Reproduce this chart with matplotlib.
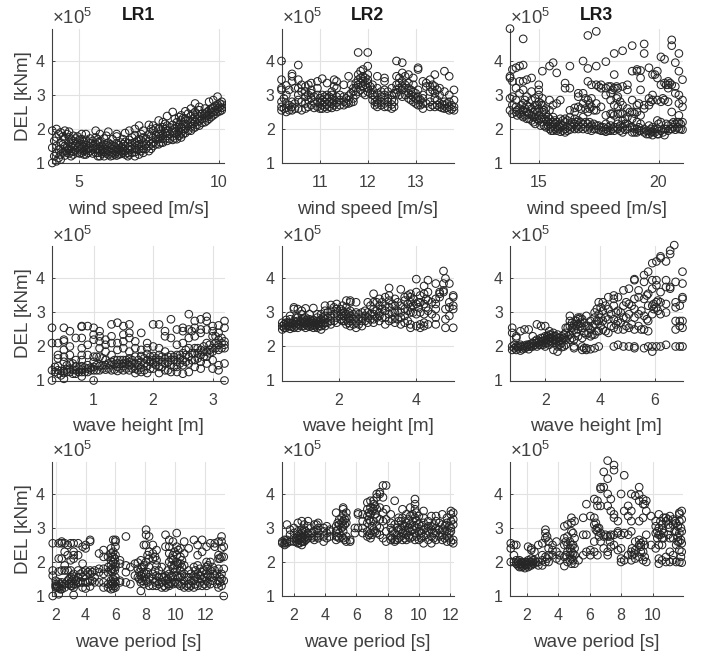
import matplotlib
matplotlib.use("Agg")
import matplotlib.pyplot as plt

plt.rcParams['font.family'] = ['Liberation Sans', 'DejaVu Sans']
plt.rcParams['mathtext.fontset'] = 'custom'
plt.rcParams['mathtext.rm'] = 'Liberation Sans'
plt.rcParams['mathtext.default'] = 'regular'

# DEL is in units of 1e5 kNm, one list of DEL values per x column
lr1_wind_x = [4.05, 4.2, 4.35, 4.5, 4.65, 4.8, 4.95, 5.1, 5.25, 5.4, 5.6, 5.75, 5.9, 6.05, 6.2, 6.35, 6.5, 6.65, 6.8, 7.0,
              7.15, 7.3, 7.5, 7.65, 7.85, 8.0, 8.15, 8.35, 8.5, 8.65, 8.8, 9.0, 9.15, 9.3, 9.5, 9.65, 9.8, 9.95, 10.1,
              4.12, 4.28, 4.43, 4.58, 4.72, 4.88, 5.03, 5.18, 5.33, 5.5, 5.68, 5.83, 5.98, 6.13, 6.28, 6.43, 6.58, 6.75, 6.9,
              7.08, 7.22, 7.4, 7.58, 7.75, 7.93, 8.08, 8.25, 8.43, 8.58, 8.72, 8.9, 9.08, 9.22, 9.4, 9.58, 9.72, 9.88, 10.03]
lr1_wind_del = [[1.0, 1.45, 1.95], [1.05, 1.3, 1.5, 1.75, 2.0], [1.1, 1.25, 1.42, 1.6, 1.9], [1.22, 1.35, 1.5, 1.7, 1.95],
                [1.28, 1.4, 1.6, 1.75, 1.92], [1.25, 1.33, 1.5, 1.65, 1.8], [1.3, 1.45, 1.6, 1.78], [1.3, 1.42, 1.55, 1.7, 1.85],
                [1.25, 1.38, 1.52, 1.68, 1.85], [1.35, 1.45, 1.58, 1.72], [1.3, 1.42, 1.55, 1.75, 1.95], [1.2, 1.35, 1.48, 1.62, 1.85],
                [1.2, 1.32, 1.42, 1.55, 1.72], [1.25, 1.35, 1.48, 1.6, 1.92], [1.22, 1.3, 1.4, 1.52, 1.7], [1.22, 1.32, 1.42, 1.58, 1.78, 1.85],
                [1.27, 1.35, 1.45, 1.6], [1.25, 1.35, 1.5, 1.62, 1.88], [1.25, 1.38, 1.5, 1.68, 1.95], [1.2, 1.32, 1.45, 1.6, 1.82, 2.0],
                [1.25, 1.4, 1.55, 1.7, 2.1], [1.3, 1.42, 1.6, 1.75, 1.95], [1.35, 1.5, 1.65, 1.85, 2.12], [1.5, 1.6, 1.75, 1.95, 2.1],
                [1.55, 1.7, 1.85, 2.0, 2.25], [1.6, 1.72, 1.85, 2.05, 2.2], [1.65, 1.8, 1.95, 2.1, 2.38], [1.68, 1.78, 1.95, 2.12, 2.5],
                [1.7, 1.85, 2.05, 2.2], [1.75, 1.9, 2.05, 2.25, 2.4], [1.88, 2.0, 2.15, 2.3, 2.52], [1.95, 2.08, 2.2, 2.38, 2.6],
                [2.05, 2.2, 2.35, 2.5, 2.75], [2.1, 2.25, 2.38, 2.55, 2.65], [2.2, 2.32, 2.45, 2.6], [2.3, 2.42, 2.55, 2.8],
                [2.4, 2.5, 2.62, 2.85], [2.5, 2.6, 2.72, 2.95], [2.55, 2.62, 2.72, 2.8],
                [1.2, 1.65], [1.15, 1.4, 1.85], [1.32, 1.55, 1.78], [1.3, 1.45, 1.85], [1.2, 1.35, 1.5, 1.68], [1.38, 1.55, 1.72],
                [1.28, 1.4, 1.52, 1.68], [1.25, 1.35, 1.48, 1.62], [1.3, 1.42, 1.6], [1.28, 1.4, 1.5, 1.65], [1.2, 1.3, 1.42, 1.6, 1.7],
                [1.28, 1.38, 1.5], [1.28, 1.4, 1.52, 1.8], [1.2, 1.32, 1.45, 1.55], [1.25, 1.36, 1.48], [1.25, 1.4, 1.52],
                [1.3, 1.4, 1.55, 1.7], [1.2, 1.3, 1.42, 1.58], [1.3, 1.42, 1.58, 1.75], [1.38, 1.52, 1.65], [1.35, 1.5, 1.68, 1.85],
                [1.42, 1.55, 1.72], [1.42, 1.58, 1.8, 2.0], [1.55, 1.7, 1.82, 2.02], [1.6, 1.78, 1.95], [1.7, 1.88, 2.0, 2.15],
                [1.7, 1.85, 2.05], [1.72, 1.9, 2.02, 2.3], [1.8, 1.95, 2.12, 2.35], [1.85, 2.0, 2.15, 2.32], [1.95, 2.1, 2.25, 2.45],
                [2.02, 2.15, 2.3, 2.45], [2.12, 2.28, 2.42], [2.18, 2.3, 2.45], [2.25, 2.38, 2.5], [2.35, 2.48, 2.6], [2.45, 2.55, 2.68],
                [2.52, 2.65, 2.75]]

lr2_wind_x = [10.2, 10.3, 10.42, 10.55, 10.7, 10.82, 10.95, 11.05, 11.15, 11.25, 11.35, 11.5, 11.6, 11.7, 11.8, 11.9, 12.0,
              12.1, 12.2, 12.35, 12.5, 12.6, 12.72, 12.85, 12.95, 13.05, 13.15, 13.3, 13.4, 13.5, 13.6, 13.7, 13.8,
              10.25, 10.36, 10.48, 10.62, 10.76, 10.88, 11.0, 11.1, 11.2, 11.3, 11.42, 11.55, 11.65, 11.75, 11.85, 11.95, 12.05,
              12.15, 12.28, 12.42, 12.55, 12.66, 12.78, 12.9, 13.0, 13.1, 13.22, 13.35, 13.45, 13.55, 13.65, 13.75]
lr2_wind_del = [[2.55, 2.65, 2.8, 3.15, 3.2, 3.45, 4.0], [2.5, 2.62, 2.75, 3.0, 3.28], [2.55, 2.65, 2.8, 3.4, 3.55, 3.62],
                [2.6, 2.85, 3.0, 3.2, 3.45, 3.88], [2.6, 2.75, 2.95, 3.1, 3.25], [2.7, 2.9, 3.05, 3.15, 3.35], [2.65, 2.8, 3.0, 3.2, 3.4],
                [2.6, 2.7, 2.85, 3.0, 3.48], [2.6, 2.72, 2.9, 3.0, 3.35], [2.62, 2.75, 2.88, 3.0, 3.1], [2.65, 2.78, 2.95, 3.2, 3.4],
                [2.7, 2.8, 2.95, 3.3], [2.75, 2.85, 2.98, 3.55], [2.8, 2.9, 3.1, 3.2], [3.1, 3.3, 3.45, 3.6, 4.25],
                [3.05, 3.25, 3.4, 3.55, 3.75], [3.1, 3.2, 3.35, 3.45, 3.6, 3.85, 4.25], [2.85, 3.0, 3.15, 3.3],
                [2.65, 2.75, 2.85, 3.05, 3.2, 3.55], [2.65, 2.75, 2.85, 3.0, 3.15, 3.4, 3.5], [2.6, 2.72, 2.85, 3.0, 3.2],
                [3.05, 3.15, 3.3, 3.55, 4.0], [2.95, 3.15, 3.25, 3.4, 3.65, 3.95], [2.9, 3.05, 3.2, 3.35, 3.6], [2.8, 2.95, 3.1, 3.3, 3.5],
                [2.7, 2.85, 2.95, 3.15, 3.75, 3.8], [2.6, 2.75, 2.9, 3.0, 3.4], [2.65, 2.8, 3.1, 3.25, 3.45], [2.65, 2.9, 3.05, 3.25, 3.6],
                [2.65, 2.75, 3.0, 3.2], [2.6, 2.7, 2.8, 3.1, 3.7], [2.55, 2.65, 2.8, 3.0, 3.55], [2.55, 2.65, 2.85, 3.15],
                [2.6, 2.9], [2.55, 2.7, 3.15], [2.6, 2.75, 3.2], [2.55, 2.8, 3.1, 3.3], [2.65, 2.85, 3.0, 3.3], [2.62, 2.78, 2.95],
                [2.6, 2.75, 2.9], [2.65, 2.8, 2.95], [2.65, 2.78, 2.95], [2.7, 2.85, 3.25, 3.45], [2.7, 2.85, 3.0], [2.75, 2.9],
                [2.78, 3.05, 3.3], [3.0, 3.2, 3.35], [3.15, 3.35, 3.5, 3.7], [3.0, 3.3, 3.5], [3.05, 3.25], [2.7, 2.8, 2.95],
                [2.7, 2.8, 2.95, 3.1], [2.65, 2.8, 2.9, 3.1], [2.65, 2.8, 3.05], [3.0, 3.2, 3.35, 3.5], [3.0, 3.2, 3.3, 3.55],
                [2.85, 3.0, 3.15], [2.75, 2.9, 3.05], [2.7, 2.85], [2.75, 3.25, 3.35], [2.7, 3.15, 3.3], [2.7, 2.85, 3.15],
                [2.62, 2.72], [2.62, 2.75], [2.58, 2.7]]

lr3_wind_x = [13.8, 13.9, 14.05, 14.2, 14.35, 14.5, 14.7, 14.85, 15.0, 15.15, 15.3, 15.45, 15.6, 15.75, 15.9, 16.1, 16.3, 16.5,
              16.65, 16.85, 17.05, 17.2, 17.4, 17.6, 17.8, 18.0, 18.15, 18.3, 18.5, 18.7, 18.9, 19.1, 19.25, 19.4, 19.6, 19.75,
              19.95, 20.1, 20.25, 20.4, 20.55, 20.7, 20.85, 21.0,
              14.1, 14.28, 14.42, 14.6, 14.78, 14.93, 15.08, 15.22, 15.38, 15.52, 15.68, 15.82, 16.0, 16.2, 16.4, 16.58, 16.75,
              16.95, 17.12, 17.3, 17.5, 17.7, 17.9, 18.08, 18.25, 18.4, 18.6, 18.8, 19.0, 19.18, 19.5, 19.68, 19.85, 20.0, 20.18,
              20.32, 20.48, 20.62, 20.78, 20.92]
lr3_wind_del = [[2.55, 2.9, 3.5, 3.55, 4.95], [2.45, 2.7, 2.95, 3.4, 3.75], [2.5, 2.65, 2.85, 3.2, 3.8], [2.45, 2.6, 3.05, 3.4, 3.85],
                [2.35, 2.55, 2.75, 3.15, 3.4, 3.88, 4.65], [2.3, 2.5, 2.7, 2.95, 3.45], [2.25, 2.4, 2.6, 2.85, 3.1, 3.5],
                [2.15, 2.35, 2.55, 2.7, 2.9], [2.25, 2.4, 2.6, 2.8, 3.0, 3.15, 3.3], [2.2, 2.35, 2.5, 2.7, 2.9, 3.7], [2.05, 2.25, 2.45, 2.6],
                [2.0, 2.15, 2.3, 2.55, 2.85, 3.85], [1.95, 2.1, 2.2, 2.35, 2.7, 3.95], [1.95, 2.05, 2.2, 2.75, 3.65], [1.92, 2.05, 2.15, 2.3, 2.85],
                [1.9, 2.0, 2.2, 2.3, 3.2, 3.35], [1.98, 2.1, 2.35, 2.55, 3.2, 3.85], [2.0, 2.15, 2.3, 2.5, 2.62], [2.0, 2.1, 2.25, 2.65, 2.95, 3.05],
                [2.0, 2.15, 2.35, 2.75, 3.05, 4.0], [1.98, 2.15, 2.5, 2.85, 3.4, 3.78, 4.75], [1.95, 2.1, 2.65, 2.9, 3.3],
                [2.0, 2.1, 2.55, 2.75, 3.3, 3.85, 4.87], [1.95, 2.05, 2.65, 3.2, 3.3], [1.92, 2.0, 2.15, 2.4, 3.0, 3.2, 3.98],
                [1.95, 2.1, 2.25, 2.45, 2.85, 3.05, 3.25], [1.95, 2.05, 2.4, 2.7, 3.2, 3.6, 4.22], [2.0, 2.15, 2.45, 2.65, 2.95, 3.2],
                [1.9, 2.05, 2.25, 2.45, 2.7, 3.25, 4.3], [2.0, 2.15, 2.35, 2.6, 3.15, 3.3], [1.9, 2.05, 2.3, 2.5, 2.85, 3.7, 4.45],
                [1.9, 2.0, 2.2, 2.5, 2.7, 3.7, 3.75], [1.95, 2.15, 2.4, 3.15, 3.5, 3.72], [1.9, 2.0, 2.6, 2.7, 4.22, 4.5], [1.85, 1.95, 2.1, 2.7, 2.9, 3.8],
                [1.82, 1.92, 2.05, 2.85, 3.0, 3.6], [1.85, 2.0, 2.25, 2.85, 3.5, 3.7], [1.95, 2.2, 2.8, 3.3, 4.12], [1.82, 2.0, 2.85, 3.35, 4.05],
                [1.95, 2.1, 2.8, 3.2, 3.3, 3.4], [2.0, 2.15, 2.5, 3.3, 4.45, 4.62], [1.98, 2.15, 3.05, 3.25, 3.95], [2.0, 2.2, 2.4, 2.75, 3.0, 3.7, 4.22],
                [1.98, 2.2, 2.65, 2.85, 3.45],
                [2.4, 2.55], [2.4, 2.5, 2.7], [2.4, 2.6, 2.85], [2.3, 2.45, 2.65], [2.2, 2.35, 2.5], [2.3, 2.5, 2.7], [2.1, 2.3, 2.75],
                [2.1, 2.3, 2.55], [2.1, 2.2, 2.35], [1.95, 2.05, 2.2], [2.0, 2.15, 2.25], [2.0, 2.1], [1.95, 2.1, 2.25], [1.95, 2.05, 2.25],
                [2.05, 2.2], [2.05, 2.2], [2.05, 2.2, 2.6], [2.05, 2.2, 2.6, 2.9], [2.05, 2.2, 2.6, 2.75], [2.0, 2.15, 2.55], [1.98, 2.1, 3.25],
                [1.95, 2.05], [1.95, 2.05, 3.25], [2.0, 2.45, 3.15], [2.05, 2.9, 3.25], [1.95, 2.1, 2.45, 2.8], [1.98, 2.15, 2.3], [2.05, 2.5],
                [1.9, 2.0, 2.45], [1.95, 2.05, 2.75], [1.85, 1.95], [1.9, 2.0, 2.8], [1.9, 2.0, 3.6], [1.85, 2.15], [1.9, 2.9], [2.0, 2.15, 3.3],
                [2.0, 3.35], [2.05, 2.2], [2.05, 2.2], [2.0, 2.15]]

lr1_height_x = [0.3, 0.4, 0.5, 0.6, 0.7, 0.8, 0.9, 1.0, 1.1, 1.2, 1.3, 1.4, 1.5, 1.6, 1.7, 1.8, 1.9, 2.0, 2.1, 2.2, 2.3, 2.4, 2.5, 2.6,
                2.7, 2.8, 2.9, 3.0, 3.1, 3.2,
                0.35, 0.45, 0.55, 0.65, 0.75, 0.85, 0.95, 1.05, 1.15, 1.25, 1.35, 1.45, 1.55, 1.65, 1.75, 1.85, 1.95, 2.05, 2.15, 2.25,
                2.35, 2.45, 2.55, 2.65, 2.75, 2.85, 2.95, 3.05, 3.15]
lr1_height_del = [[1.0, 1.3, 2.1, 2.55], [1.2, 1.3, 1.42, 1.65, 1.75, 2.1], [1.05, 1.22, 1.28, 1.55, 1.7, 1.9, 2.15, 2.2, 2.55],
                  [1.25, 1.35, 1.5, 1.75, 2.0, 2.45], [1.2, 1.3, 1.42, 1.6, 2.25], [1.12, 1.25, 1.32, 1.42, 1.6, 1.75, 1.95, 2.25, 2.58, 2.6],
                  [1.25, 1.35, 1.45, 1.75, 2.05, 2.6], [1.0, 1.3, 1.4, 1.55, 1.7, 2.2, 2.35, 2.55], [1.3, 1.42, 1.7, 1.95, 2.15, 2.3, 2.45],
                  [1.32, 1.45, 1.6, 1.85, 2.05, 2.2], [1.3, 1.45, 1.55, 1.75, 2.1, 2.3, 2.65], [1.28, 1.4, 1.5, 1.6, 1.9, 2.1, 2.7],
                  [1.3, 1.42, 1.5, 1.6, 1.95, 2.15, 2.35, 2.6], [1.3, 1.45, 1.55, 1.65, 1.85, 2.25, 2.4, 2.65], [1.22, 1.35, 1.5, 1.7, 1.95, 2.15],
                  [1.25, 1.38, 1.55, 1.72, 1.9, 2.4], [1.22, 1.42, 1.6, 1.78, 1.95, 2.1], [1.35, 1.5, 1.6, 1.72, 2.0, 2.65],
                  [1.22, 1.4, 1.6, 1.75, 1.95, 2.65], [1.3, 1.5, 1.65, 1.85, 2.3, 2.45], [1.25, 1.45, 1.6, 1.75, 2.25, 2.8],
                  [1.25, 1.4, 1.55, 1.75, 2.05, 2.5], [1.2, 1.45, 1.6, 1.8, 2.1, 2.45, 2.55], [1.25, 1.5, 1.7, 1.95, 2.25, 2.5, 2.95],
                  [1.4, 1.6, 1.8, 1.95, 2.3, 2.55, 2.75], [1.35, 1.55, 1.75, 1.9, 2.4, 2.5, 2.8], [1.5, 1.7, 1.85, 2.1, 2.5, 2.75, 2.88],
                  [1.35, 1.6, 1.85, 1.95, 2.3, 2.45, 2.6], [1.3, 1.45, 1.9, 2.05, 2.2, 2.4, 2.62], [1.0, 1.5, 1.95, 2.05, 2.15, 2.55, 2.75],
                  [1.25, 1.4], [1.15, 1.28], [1.25, 1.32, 1.45], [1.2, 1.32, 1.5], [1.25, 1.35], [1.25, 1.38], [1.3, 1.38], [1.3, 1.45, 1.7],
                  [1.35, 1.45, 1.65], [1.35, 1.5], [1.32, 1.48, 1.6], [1.35, 1.48, 1.6], [1.35, 1.5, 1.6], [1.35, 1.5, 1.6], [1.3, 1.45, 1.6],
                  [1.3, 1.5, 1.65], [1.35, 1.55, 1.7], [1.45, 1.55, 1.65], [1.4, 1.55, 1.7], [1.3, 1.55, 1.7], [1.4, 1.6, 1.7], [1.5, 1.65, 1.75],
                  [1.55, 1.75, 1.9], [1.6, 1.8, 2.45], [1.65, 1.8, 1.95], [1.7, 1.85, 2.0], [1.8, 1.9, 2.05], [1.95, 2.1, 2.3], [1.95, 2.1, 2.25]]

lr2_height_x = [0.55, 0.65, 0.75, 0.85, 0.95, 1.05, 1.15, 1.25, 1.35, 1.45, 1.55, 1.65, 1.8, 1.95, 2.1, 2.2, 2.3, 2.45, 2.6, 2.75, 2.9,
                3.05, 3.2, 3.3, 3.45, 3.6, 3.7, 3.85, 4.0, 4.1, 4.2, 4.3, 4.5, 4.6, 4.7, 4.75, 4.85, 4.95,
                0.6, 0.7, 0.8, 0.9, 1.0, 1.1, 1.2, 1.3, 1.4, 1.5, 1.6, 1.72, 1.88, 2.05, 2.15, 2.25, 2.38, 2.52, 2.68, 2.82, 2.98,
                3.12, 3.38, 3.52, 3.78, 3.92, 4.05, 4.25, 4.4]
lr2_height_del = [[2.5, 2.6, 2.7], [2.55, 2.62, 2.7, 2.78], [2.52, 2.6, 2.68, 2.8, 2.9], [2.55, 2.65, 2.75, 3.1, 3.15], [2.55, 2.65, 2.75, 2.85, 3.1],
                  [2.6, 2.7, 2.8, 2.95, 3.05], [2.55, 2.65, 2.72, 2.85, 3.12], [2.58, 2.65, 2.72, 2.8, 2.95], [2.55, 2.62, 2.7, 2.78, 3.13],
                  [2.55, 2.65, 2.75, 2.85, 2.95], [2.5, 2.6, 2.7, 2.8, 2.95], [2.6, 2.7, 2.8, 2.9, 3.05, 3.2], [2.65, 2.75, 2.9, 3.05, 3.22],
                  [2.7, 2.85, 3.0, 3.1, 3.25], [2.75, 2.9, 3.05, 3.2], [2.65, 2.8, 2.95, 3.15, 3.35], [2.6, 2.75, 2.9, 3.05, 3.3, 3.35],
                  [2.55, 2.7, 2.85, 3.0, 3.3], [2.6, 2.75, 2.85, 3.0], [2.7, 2.85, 3.0, 3.3], [2.7, 2.8, 2.95, 3.1, 3.3, 3.55],
                  [2.75, 2.9, 3.0, 3.2, 3.4], [2.65, 2.85, 3.05, 3.2, 3.45], [2.75, 2.95, 3.15, 3.35, 3.5, 3.72], [2.7, 2.85, 3.0, 3.2, 3.4],
                  [2.65, 2.85, 3.0, 3.2, 3.68], [2.7, 2.9, 3.1, 3.35, 3.45], [2.55, 2.65, 3.0, 3.15, 3.3, 3.45, 3.55], [2.6, 2.95, 3.25, 3.6, 3.98],
                  [2.55, 2.65, 3.0, 3.3, 3.5], [2.6, 2.7, 2.95, 3.25, 3.55, 3.78], [2.65, 3.05, 3.35, 3.6, 3.95], [2.65, 2.85, 3.1, 3.25, 3.4, 3.85],
                  [3.45, 3.55, 3.6], [3.6, 3.65, 3.85, 4.22], [2.55, 2.8, 3.1, 4.0], [2.9, 3.15, 3.3, 3.85], [2.55, 3.1, 3.2, 3.45, 3.5],
                  [2.55, 2.65], [2.6, 2.7], [2.58, 2.68], [2.6, 2.7, 2.85], [2.62, 2.72], [2.6, 2.7, 2.82], [2.62, 2.7, 2.78], [2.6, 2.68, 2.76],
                  [2.6, 2.7], [2.6, 2.72], [2.65, 2.75, 2.85], [2.7, 2.85, 3.0], [2.75, 2.95, 3.15], [2.8, 2.95, 3.1], [2.75, 2.9, 3.0],
                  [2.7, 2.85, 3.0], [2.65, 2.8, 2.95], [2.65, 2.8, 2.95], [2.75, 2.9, 3.05], [2.8, 2.95, 3.2], [2.85, 3.05, 3.3], [2.85, 3.1, 3.3],
                  [2.8, 3.0, 3.25], [2.8, 3.05, 3.3], [2.75, 3.05, 3.25, 3.5], [3.0, 3.2, 3.4], [3.15, 3.3], [3.15, 3.4], [2.95, 3.3]]

lr3_height_x = [0.8, 0.95, 1.1, 1.25, 1.4, 1.55, 1.7, 1.85, 2.0, 2.15, 2.3, 2.45, 2.6, 2.75, 2.9, 3.05, 3.2, 3.35, 3.5, 3.65, 3.8, 3.95, 4.1,
                4.3, 4.5, 4.65, 4.85, 5.05, 5.25, 5.4, 5.6, 5.75, 5.9, 6.05, 6.2, 6.4, 6.55, 6.7, 6.75, 6.9, 7.0,
                0.88, 1.02, 1.18, 1.33, 1.48, 1.62, 1.78, 1.92, 2.08, 2.22, 2.38, 2.52, 2.68, 2.82, 2.98, 3.12, 3.28, 3.42, 3.58, 3.72,
                3.88, 4.02, 4.2, 4.4, 4.58, 4.75, 4.95, 5.15, 5.5, 5.7, 5.95, 6.1]
lr3_height_del = [[1.9, 2.0, 2.4, 2.55], [1.9, 2.0, 2.25, 2.3], [1.88, 2.0, 2.05, 2.45], [1.95, 2.02, 2.5], [1.92, 2.0, 2.05, 2.5], [2.0, 2.1, 2.3],
                  [2.0, 2.1, 2.2, 2.65], [2.05, 2.15, 2.25, 2.6], [2.0, 2.1, 2.2, 2.3, 2.6], [2.05, 2.15, 2.25, 2.35, 2.45], [1.9, 2.1, 2.2, 2.3, 2.4],
                  [1.85, 2.0, 2.15, 2.25, 2.35], [1.98, 2.1, 2.2, 2.3], [2.05, 2.2, 2.4, 2.55], [2.2, 2.35, 2.6, 2.75, 2.9], [1.95, 2.0, 2.2, 2.5, 2.65],
                  [2.3, 2.5, 2.65, 2.8, 2.85], [1.9, 2.0, 2.25, 2.55, 2.8], [1.9, 1.95, 2.35, 2.6, 2.9], [1.92, 2.3, 2.5, 2.75], [1.95, 2.35, 2.65, 2.85, 3.0],
                  [2.0, 2.45, 2.75, 2.95, 3.3], [2.5, 2.75, 3.05, 3.3], [2.4, 2.8, 3.1, 3.45], [2.0, 2.55, 2.8, 3.2, 3.4, 3.5], [2.05, 2.5, 2.75, 3.05, 3.45],
                  [2.0, 2.5, 2.85, 3.2, 3.65], [2.0, 2.55, 2.95, 3.25, 3.7], [1.95, 2.0, 2.5, 2.85, 3.1, 3.4, 3.95, 3.98], [2.6, 2.95, 3.45, 3.65],
                  [1.95, 2.5, 2.9, 3.4, 3.9, 4.1], [2.0, 2.45, 2.75, 3.2, 3.55, 4.2], [1.85, 2.0, 2.95, 3.2, 3.7, 3.95, 4.45], [2.0, 3.15, 3.3, 3.8, 3.95, 4.5],
                  [2.0, 2.95, 3.3, 3.6, 4.6, 4.65], [2.05, 3.0, 3.25, 3.75, 3.95, 4.5], [3.7, 3.75, 4.72, 4.82], [4.98], [2.0, 2.5, 2.75, 3.15, 3.3, 3.9],
                  [2.0, 2.6, 2.75, 3.2], [2.0, 2.55, 2.75, 3.4, 3.45, 3.85, 4.2],
                  [1.95, 2.05], [1.95, 2.0], [1.92, 2.0], [1.98, 2.05], [2.0, 2.08], [2.05, 2.15], [2.05, 2.15], [2.05, 2.15, 2.25], [2.1, 2.2, 2.3],
                  [2.15, 2.25, 2.35], [2.1, 2.2, 2.3], [2.05, 2.15, 2.25], [2.0, 2.25, 2.35], [2.3, 2.55], [2.25, 2.55, 2.7], [2.4, 2.6, 2.75],
                  [2.6, 2.7, 2.85], [1.95, 2.4, 2.7], [2.4, 2.6], [2.35, 2.6], [2.45, 2.75, 3.1], [2.6, 2.85, 3.15], [2.45, 2.85, 3.2], [2.6, 2.95],
                  [2.65, 3.0], [2.7, 3.0], [2.6, 2.85, 3.3], [2.65, 3.2], [2.5, 3.05], [2.8, 3.5], [3.1, 3.25], [3.05, 3.35]]

lr1_period_x = [1.8, 2.0, 2.2, 2.4, 2.6, 2.8, 3.0, 3.2, 3.5, 3.8, 4.0, 4.3, 4.6, 4.9, 5.2, 5.5, 5.7, 5.85, 6.0, 6.3, 6.7, 7.0, 7.3, 7.5, 7.7, 7.9,
                8.05, 8.25, 8.5, 8.75, 9.1, 9.35, 9.6, 9.85, 10.1, 10.35, 10.6, 10.9, 11.25, 11.5, 11.8, 12.1, 12.35, 12.65, 12.9, 13.1, 13.25,
                2.1, 2.3, 2.9, 3.1, 3.35, 3.65, 4.15, 4.45, 5.75, 5.95, 5.8, 7.6, 7.8, 8.15, 8.65, 8.9, 9.25, 9.5, 9.75, 9.95, 10.2, 10.45,
                10.75, 11.05, 11.35, 11.65, 11.95, 12.2, 12.5, 12.8, 13.0]
lr1_period_del = [[1.0, 1.6, 1.75, 2.55], [1.25, 1.3, 1.35, 1.45], [1.05, 1.25, 1.4, 1.72, 2.1, 2.55], [1.2, 1.3, 1.4, 1.75, 2.1, 2.55, 2.6],
                  [1.25, 1.35, 1.75, 1.9, 2.3, 2.55], [1.45, 1.75, 2.2, 2.5], [1.3, 1.4, 1.55, 1.75, 2.05, 2.55], [1.03, 1.25, 1.35, 1.5, 1.65, 2.1, 2.2, 2.3, 2.55],
                  [1.4, 1.55, 1.75, 2.2, 2.55], [1.25, 1.4, 1.55, 1.7, 1.95, 2.45], [1.22, 1.4, 1.6, 1.75, 2.4, 2.5], [1.28, 1.45, 1.65, 1.75, 2.6, 2.65],
                  [1.4, 1.55, 1.75], [1.4, 1.7, 1.8, 2.25], [1.25, 1.4, 1.65, 1.8, 2.15, 2.35], [1.25, 1.35, 1.7, 1.85, 2.15],
                  [1.2, 1.35, 1.45, 1.75, 1.9, 2.05, 2.25, 2.4], [1.22, 1.35, 1.5, 1.8, 2.0, 2.15, 2.3, 2.65], [1.25, 1.4, 1.55, 1.85, 1.95, 2.2, 2.45, 2.6, 2.65],
                  [1.4, 1.45, 1.95, 2.05], [1.4, 1.7, 1.9, 2.75], [1.35, 1.85], [1.6, 1.95], [1.55, 1.8, 1.98], [1.15, 1.4, 1.6, 1.8, 2.05],
                  [1.35, 1.55, 1.7, 1.9, 2.5], [1.45, 1.65, 2.0, 2.5, 2.8, 2.95], [1.3, 1.55, 1.85, 2.1, 2.3, 2.75], [1.3, 1.5, 1.65, 2.1, 2.25, 2.5],
                  [1.3, 1.45, 1.6, 1.9, 2.05, 2.35], [1.25, 1.4, 1.55, 1.85], [1.25, 1.45, 1.6, 2.45, 2.8], [1.3, 1.35, 1.65, 2.0, 2.25, 2.45, 2.65],
                  [1.35, 1.55, 1.8, 2.05, 2.2, 2.6], [1.4, 1.6, 1.8, 2.0, 2.2, 2.45, 2.85], [1.3, 1.55, 1.75, 1.95, 2.15, 2.4], [1.25, 1.45, 1.65, 1.9, 2.25, 2.6],
                  [1.25, 1.35, 1.55, 1.75, 2.4], [1.25, 1.45, 1.6, 1.85, 2.65], [1.3, 1.5, 1.65, 1.9, 2.2, 2.5], [1.3, 1.5, 1.7, 2.3, 2.65],
                  [1.3, 1.45, 1.65, 1.85, 2.0, 2.45], [1.35, 1.55, 1.75, 2.0, 2.55], [1.6, 1.75, 2.45, 2.55], [1.25, 1.45, 1.8, 2.1, 2.2, 2.6],
                  [1.3, 1.5, 1.65, 2.15, 2.4, 2.6, 2.75], [1.0, 1.45, 1.8, 2.15, 2.45],
                  [1.25, 1.3], [1.2, 1.35], [1.35, 1.5], [1.3, 1.45, 1.6], [1.35, 1.45], [1.4, 1.65], [1.4, 1.7], [1.45, 1.7], [1.3, 1.8, 2.15],
                  [1.3, 1.45, 1.75, 2.1], [1.4, 1.7], [1.5, 1.7], [1.45, 1.65, 1.85], [1.4, 1.7, 2.2], [1.4, 1.75, 2.15], [1.35, 1.55, 1.75], [1.3, 1.55],
                  [1.35, 1.5, 1.75], [1.4, 1.6, 1.9, 2.1], [1.4, 1.7, 1.9, 2.3], [1.35, 1.55, 1.95, 2.35], [1.35, 1.6, 1.85, 2.05], [1.3, 1.55],
                  [1.3, 1.45, 1.65], [1.35, 1.55, 1.75], [1.4, 1.6, 1.8], [1.35, 1.55, 1.75], [1.4, 1.6, 1.9], [1.45, 1.65, 1.85], [1.35, 1.65], [1.4, 1.55, 2.1]]

lr2_period_x = [1.25, 1.4, 1.55, 1.75, 2.0, 2.25, 2.5, 2.65, 2.9, 3.3, 3.55, 3.9, 4.1, 4.3, 4.7, 4.9, 5.15, 5.35, 5.6, 5.9, 6.1, 6.4, 6.7, 6.9, 7.1, 7.3,
                7.5, 7.7, 7.9, 8.2, 8.45, 8.7, 8.95, 9.2, 9.45, 9.75, 10.0, 10.3, 10.6, 10.8, 11.1, 11.5, 11.8, 12.05, 12.2,
                2.15, 2.35, 2.55, 2.75, 3.15, 3.45, 4.8, 5.05, 5.25, 6.8, 7.0, 7.2, 8.3, 8.6, 8.85, 9.1, 9.35, 9.6, 9.85, 10.15, 10.45,
                10.95, 11.3, 11.65, 11.95]
lr2_period_del = [[2.55, 2.6], [2.5, 2.55, 2.65], [2.55, 2.6, 2.65, 3.1], [2.6, 2.8, 2.95], [2.6, 2.7, 2.85, 3.0], [2.55, 2.65, 2.75, 2.9, 3.15],
                  [2.5, 2.6, 2.7, 2.85, 2.95, 3.2], [2.6, 2.7, 2.8, 2.95, 3.1], [2.7, 2.85, 3.05, 3.2], [2.65, 2.75, 2.9, 3.1], [2.7, 2.85, 3.0, 3.15],
                  [2.6, 2.75, 2.9, 3.0], [2.7, 2.85, 3.05], [2.75, 2.9, 2.95], [2.65, 2.75, 2.9, 3.05, 3.45], [2.7, 2.85, 3.1, 3.25],
                  [2.7, 2.9, 3.05, 3.2, 3.4, 3.55, 3.6], [2.6, 2.75, 3.15, 3.3, 3.45], [2.6, 2.65], [2.85, 3.0], [3.0, 3.4, 3.45], [2.85, 3.0, 3.2, 3.4],
                  [2.75, 2.9, 3.15, 3.35, 3.55, 3.75], [2.7, 2.85, 3.2, 3.4, 3.6, 3.8], [2.95, 3.2, 3.55, 3.7, 3.8], [2.85, 3.05, 3.3, 3.55, 3.9, 4.0],
                  [2.8, 3.0, 3.25, 3.6, 4.0, 4.05], [2.7, 3.2, 3.45, 3.9, 4.25], [2.6, 2.9, 3.25, 3.55, 4.25], [2.65, 2.75, 3.0, 3.15, 3.4],
                  [2.6, 2.65, 2.85, 3.1, 3.8], [2.7, 2.95, 3.2, 3.3], [2.65, 2.85, 3.05, 3.3, 3.55], [2.65, 2.8, 2.95, 3.15, 3.4], [2.7, 2.9, 3.1, 3.35, 3.6],
                  [2.65, 2.85, 3.05, 3.3, 3.55, 3.7, 3.85], [2.65, 2.9, 3.1, 3.35], [2.55, 2.75, 2.95, 3.15, 3.3, 3.5], [2.65, 2.9, 3.05, 3.2],
                  [2.55, 2.75, 2.95, 3.05, 3.35], [2.65, 2.85, 3.0, 3.2, 3.35], [2.65, 2.8, 2.95, 3.1, 3.4], [2.6, 2.75, 2.9, 3.15, 3.3],
                  [2.6, 2.9, 3.0, 3.2, 3.4, 3.5], [2.55, 2.65, 3.1, 3.25, 3.45],
                  [2.6, 2.7], [2.55, 2.65, 2.8], [2.6, 2.75, 2.9], [2.65, 2.75, 2.9], [2.7, 2.85], [2.75, 2.95, 3.1], [2.75, 2.95, 3.15],
                  [2.75, 3.0, 3.15, 3.3], [2.65, 3.1, 3.25], [2.8, 3.25, 3.45], [2.8, 3.05, 3.5], [2.9, 3.4, 3.65], [2.7, 2.9], [2.65, 2.8, 3.0],
                  [2.75, 2.95, 3.2], [2.7, 2.9, 3.05], [2.75, 3.0, 3.25], [2.75, 2.95, 3.2, 3.4], [2.75, 3.0, 3.2, 3.45], [2.7, 2.85, 3.05], [2.8, 3.0],
                  [2.7, 2.85, 3.1], [2.75, 2.95, 3.15], [2.7, 2.9, 3.05], [2.7, 2.85, 3.05]]

lr3_period_x = [1.0, 1.2, 1.35, 1.55, 1.7, 1.9, 2.1, 2.3, 2.5, 2.75, 3.0, 3.2, 3.4, 3.65, 3.9, 4.1, 4.4, 4.6, 4.85, 5.05, 5.3, 5.6, 5.8, 6.05, 6.3, 6.5, 6.7,
                6.9, 7.15, 7.35, 7.55, 7.8, 8.0, 8.2, 8.45, 8.65, 8.9, 9.15, 9.4, 9.6, 9.9, 10.2, 10.4, 10.6, 10.85, 11.1, 11.3, 11.5, 11.7, 11.85,
                1.45, 1.65, 1.8, 2.0, 2.2, 2.4, 2.6, 3.3, 4.5, 4.75, 4.95, 6.4, 6.6, 7.0, 7.3, 8.7, 8.85, 9.25, 9.5, 10.3, 10.5, 10.7, 11.0,
                11.4, 11.6, 11.8]
lr3_period_del = [[2.0, 2.4, 2.55], [2.0, 2.2, 2.5], [1.95, 2.05, 2.5], [1.85, 1.95, 2.05], [1.85, 1.95, 2.0], [1.82, 1.92, 2.0], [1.85, 1.95, 2.05, 2.45],
                  [1.9, 2.0, 2.1, 2.35, 2.4], [1.95, 2.05, 2.3], [1.9, 2.0, 2.5], [1.9, 2.05, 2.2, 2.55], [2.0, 2.15, 2.7, 2.85, 2.95], [2.0, 2.2, 2.4, 2.6],
                  [2.2, 2.35, 2.5], [2.1, 2.3, 2.6], [2.05, 2.2], [1.88, 2.15, 2.5, 2.7, 3.05], [2.0, 2.3, 2.5, 2.75, 3.1], [1.95, 2.1, 2.3, 2.5, 2.9, 3.15, 3.3],
                  [1.95, 2.2, 2.4, 2.7, 3.2], [2.05], [2.2, 2.8, 3.3], [2.3, 2.8, 3.7], [2.2, 2.35, 3.35], [2.3, 2.6, 3.1, 3.3, 3.85], [2.2, 2.9, 3.0, 3.65, 3.8],
                  [2.6, 2.85, 3.65, 4.15, 4.2], [2.4, 2.75, 4.2, 4.65], [2.2, 2.3, 2.75, 3.65, 4.0, 4.45, 4.98], [2.45, 2.8, 3.5, 3.85], [2.5, 2.8, 3.3, 3.4, 4.7, 4.85],
                  [2.35, 2.85, 2.9, 3.2], [2.0, 2.1, 2.4, 2.8, 4.0], [2.05, 2.85, 3.5, 4.55], [2.2, 2.8, 3.35, 3.65], [2.05, 2.3, 2.9, 3.2, 3.5, 4.0],
                  [2.1, 2.35, 2.6, 3.95], [2.15, 2.5, 2.65, 3.2, 3.8, 3.98, 4.2], [2.05, 2.3, 2.6, 3.3, 3.7, 3.85], [2.0, 2.8, 3.5, 3.8], [2.5, 3.35],
                  [2.4, 2.85, 3.05, 3.2], [1.95, 2.1, 2.5, 2.8, 3.0, 3.4], [2.05, 2.5, 2.7, 2.95, 3.1], [2.0, 2.15, 3.2, 3.3], [2.0, 2.3, 2.7, 3.0, 3.35],
                  [2.05, 2.2, 2.7, 3.1, 3.25], [2.0, 2.5, 2.9, 3.15], [2.0, 2.35, 2.6, 2.85, 3.2, 3.4, 3.45], [1.98, 2.3, 2.55, 2.9, 3.25, 3.5],
                  [1.9, 2.0], [1.9, 2.0], [1.88, 1.98], [1.9, 2.0], [1.9, 2.0], [1.95, 2.05], [2.0], [2.1, 2.75], [2.2, 2.6], [2.05, 2.2, 2.4, 2.6],
                  [2.05, 2.25, 2.5, 2.85], [2.95, 3.15], [2.75, 3.0], [2.8], [2.6, 2.75], [2.2, 2.4], [2.25], [2.3, 2.45, 2.55], [2.15, 2.5, 3.7],
                  [2.7, 2.9], [2.8, 3.2], [2.7, 2.85, 3.3], [2.8, 3.1, 3.25], [2.9, 3.2], [2.6, 2.75, 3.05], [2.15, 2.65, 3.0]]

titles = ['LR1', 'LR2', 'LR3']
x_labels = ['wind speed [m/s]', 'wave height [m]', 'wave period [s]']
y_ticks = [1, 2, 3, 4]

panels = [
    [(lr1_wind_x, lr1_wind_del, (4.04, 10.2), [5, 10]),
     (lr2_wind_x, lr2_wind_del, (10.2, 13.8), [11, 12, 13]),
     (lr3_wind_x, lr3_wind_del, (13.8, 21.0), [15, 20])],
    [(lr1_height_x, lr1_height_del, (0.3, 3.2), [1, 2, 3]),
     (lr2_height_x, lr2_height_del, (0.53, 4.97), [2, 4]),
     (lr3_height_x, lr3_height_del, (0.72, 7.0), [2, 4, 6])],
    [(lr1_period_x, lr1_period_del, (1.75, 13.3), [2, 4, 6, 8, 10, 12]),
     (lr2_period_x, lr2_period_del, (1.2, 12.25), [2, 4, 6, 8, 10, 12]),
     (lr3_period_x, lr3_period_del, (0.95, 11.9), [2, 4, 6, 8, 10])],
]

W, H = 701, 655
lefts = [52, 281.5, 510]
tops = [29, 246.5, 462]
ax_w, ax_h = 172.5, 134

fig = plt.figure(figsize=(W / 100, H / 100), dpi=100)

for r, row in enumerate(panels):
    for c, (xs, dels, xlim, xticks) in enumerate(row):
        ax = fig.add_axes([lefts[c] / W, 1 - (tops[r] + ax_h) / H, ax_w / W, ax_h / H])

        # one column of circles per x value
        px = [x for x, col in zip(xs, dels) for _ in col]
        py = [d for col in dels for d in col]
        ax.scatter(px, py, s=30, facecolors='none', edgecolors='#262626', linewidths=0.75, clip_on=False, zorder=5)

        ax.set_xlim(xlim)
        ax.set_ylim(1, 4.94)
        ax.set_xticks(xticks)
        ax.set_yticks(y_ticks)
        ax.grid(True, color='#e2e2e2', linewidth=0.8)
        ax.set_axisbelow(True)
        ax.spines['top'].set_visible(False)
        ax.spines['right'].set_visible(False)
        for s in ['left', 'bottom']:
            ax.spines[s].set_color('#404040')
            ax.spines[s].set_linewidth(0.8)
        ax.tick_params(direction='in', length=2, width=0.7, color='#404040', labelcolor='#404040', labelsize=11.5)
        ax.tick_params(axis='x', pad=9)
        ax.tick_params(axis='y', pad=5)

        ax.set_xlabel(x_labels[r], fontsize=13.6, color='#404040', labelpad=7.5)
        if c == 0:
            ax.set_ylabel('DEL [kNm]', fontsize=13.6, color='#404040', labelpad=3)
        if r == 0:
            ax.text(0.5, 1.035, titles[c], transform=ax.transAxes, ha='center', va='bottom',
                    fontsize=12.7, fontweight='bold', color='#1a1a1a')
        ax.text(0.0, 1.005, r'$\times10^{5}$', transform=ax.transAxes, ha='left', va='bottom',
                fontsize=13.3, color='#404040')

fig.savefig('out.png', dpi=100)
